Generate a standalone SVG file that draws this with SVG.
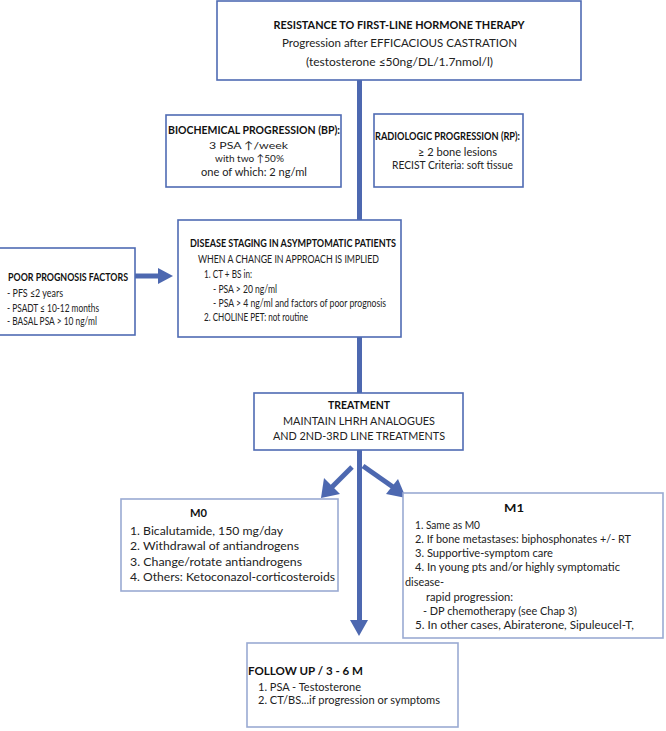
<svg xmlns="http://www.w3.org/2000/svg" width="666" height="731" viewBox="0 0 666 731">
<defs>
<style>
text{font-family:Lato,"Liberation Sans",sans-serif;font-size:11px;fill:#222}
.b{font-weight:bold;fill:#111}
.c{text-anchor:middle}
.box{fill:#fff;stroke:#4f6bb3;stroke-width:1.6}
.lbox{fill:#fff;stroke:#9aaad3;stroke-width:1.6}
.con{stroke:#4d68b0;stroke-width:5;fill:none}
.head{fill:#4d68b0}
</style>
</defs>
<rect width="666" height="731" fill="#fff"/>
<g id="connectors">
<line class="con" x1="359.5" y1="80" x2="359.5" y2="220"/>
<line class="con" x1="359.5" y1="337" x2="359.5" y2="393"/>
<line class="con" x1="359.5" y1="450" x2="359.5" y2="622"/>
<polygon class="head" points="350,620 368,620 359,636"/>
<line class="con" x1="135" y1="276" x2="160" y2="276"/>
<polygon class="head" points="158,268 173,276 158,284"/>
<line class="con" x1="352" y1="467" x2="332" y2="487"/>
<polygon class="head" points="324,478 340,494 321,498"/>
<line class="con" x1="363" y1="466" x2="393" y2="487"/>
<polygon class="head" points="386,494 398,479 406,498"/>
</g>
<g id="top">
<rect class="box" x="217" y="1" width="364" height="79"/>
<text class="b c" x="399" y="29" style="font-size:11px" textLength="251" lengthAdjust="spacingAndGlyphs">RESISTANCE TO FIRST-LINE HORMONE THERAPY</text>
<text class="c" x="399.5" y="47" style="font-size:11.5px" textLength="235" lengthAdjust="spacingAndGlyphs">Progression after EFFICACIOUS CASTRATION</text>
<text class="c" x="399.5" y="66" style="font-size:11.5px" textLength="187" lengthAdjust="spacingAndGlyphs">(testosterone ≤50ng/DL/1.7nmol/l)</text>
</g>
<g id="bp">
<rect class="box" x="166" y="115" width="175" height="72"/>
<text class="b c" x="254" y="134" style="font-size:10.5px" textLength="172" lengthAdjust="spacingAndGlyphs">BIOCHEMICAL PROGRESSION (BP):</text>
<text class="c" x="248.5" y="149" style="font-size:10.2px" textLength="79" lengthAdjust="spacingAndGlyphs">3 PSA ↑/week</text>
<text class="c" x="249.5" y="162" style="font-size:10.2px" textLength="69" lengthAdjust="spacingAndGlyphs">with two ↑50%</text>
<text class="c" x="254" y="176" style="font-size:10.5px" textLength="106" lengthAdjust="spacingAndGlyphs">one of which: 2 ng/ml</text>
</g>
<g id="rp">
<rect class="box" x="374" y="114" width="149" height="73"/>
<text class="b c" x="447.5" y="140" style="font-size:10.5px" textLength="145" lengthAdjust="spacingAndGlyphs">RADIOLOGIC PROGRESSION (RP):</text>
<text class="c" x="457.5" y="156" style="font-size:10.5px" textLength="79" lengthAdjust="spacingAndGlyphs">≥ 2 bone lesions</text>
<text class="c" x="452.5" y="169" style="font-size:10.5px" textLength="121" lengthAdjust="spacingAndGlyphs">RECIST Criteria: soft tissue</text>
</g>
<g id="poor">
<rect class="box" x="-1" y="248" width="136" height="87"/>
<text class="b" x="8" y="281" style="font-size:11.5px" textLength="120" lengthAdjust="spacingAndGlyphs">POOR PROGNOSIS FACTORS</text>
<text x="7" y="297" style="font-size:11px" textLength="56" lengthAdjust="spacingAndGlyphs">- PFS  ≤2 years</text>
<text x="7" y="312" style="font-size:11px" textLength="92" lengthAdjust="spacingAndGlyphs">- PSADT ≤ 10-12 months</text>
<text x="7" y="325" style="font-size:11px" textLength="90" lengthAdjust="spacingAndGlyphs">- BASAL PSA &gt; 10 ng/ml</text>
</g>
<g id="staging">
<rect class="box" x="178" y="220" width="223" height="117"/>
<text class="b" x="190" y="247" style="font-size:10.5px" textLength="206" lengthAdjust="spacingAndGlyphs">DISEASE STAGING IN ASYMPTOMATIC PATIENTS</text>
<text x="198" y="263" style="font-size:10.5px" textLength="181" lengthAdjust="spacingAndGlyphs">WHEN A CHANGE IN APPROACH IS IMPLIED</text>
<text x="204" y="278" style="font-size:10.5px" textLength="48" lengthAdjust="spacingAndGlyphs">1. CT + BS  in:</text>
<text x="213" y="293" style="font-size:10.5px" textLength="64" lengthAdjust="spacingAndGlyphs">- PSA &gt; 20 ng/ml</text>
<text x="213" y="307" style="font-size:10.5px" textLength="173" lengthAdjust="spacingAndGlyphs">- PSA &gt; 4 ng/ml and factors of poor prognosis</text>
<text x="204" y="321" style="font-size:10.5px" textLength="104" lengthAdjust="spacingAndGlyphs">2. CHOLINE PET: not routine</text>
</g>
<g id="treatment">
<rect class="box" x="254" y="393" width="209" height="57"/>
<text class="b c" x="359" y="409" textLength="62" lengthAdjust="spacingAndGlyphs">TREATMENT</text>
<text class="c" x="359" y="425" textLength="152" lengthAdjust="spacingAndGlyphs">MAINTAIN LHRH ANALOGUES</text>
<text class="c" x="359" y="440" textLength="172" lengthAdjust="spacingAndGlyphs">AND 2ND-3RD LINE TREATMENTS</text>
</g>
<g id="m0">
<rect class="lbox" x="121" y="499" width="217" height="92"/>
<text class="b c" x="198.5" y="517" style="font-size:12px" textLength="17" lengthAdjust="spacingAndGlyphs">M0</text>
<text x="130" y="535" style="font-size:11.5px" textLength="153" lengthAdjust="spacingAndGlyphs">1. Bicalutamide, 150 mg/day</text>
<text x="130" y="550" style="font-size:11.5px" textLength="169" lengthAdjust="spacingAndGlyphs">2. Withdrawal of antiandrogens</text>
<text x="130" y="566" style="font-size:11.5px" textLength="172" lengthAdjust="spacingAndGlyphs">3. Change/rotate antiandrogens</text>
<text x="130" y="581" style="font-size:11.5px" textLength="205" lengthAdjust="spacingAndGlyphs">4. Others: Ketoconazol-corticosteroids</text>
</g>
<g id="m1">
<rect class="lbox" x="403" y="493" width="260" height="145"/>
<text class="b c" x="514" y="512" style="font-size:12px" textLength="20" lengthAdjust="spacingAndGlyphs">M1</text>
<text x="415" y="529" style="font-size:10.5px" textLength="65" lengthAdjust="spacingAndGlyphs">1. Same as M0</text>
<text x="415" y="543" style="font-size:10.5px" textLength="216" lengthAdjust="spacingAndGlyphs">2. If bone metastases: biphosphonates +/- RT</text>
<text x="415" y="557" style="font-size:10.5px" textLength="138" lengthAdjust="spacingAndGlyphs">3. Supportive-symptom care</text>
<text x="415" y="571" style="font-size:10.5px" textLength="205" lengthAdjust="spacingAndGlyphs">4. In young pts and/or highly symptomatic</text>
<text x="405" y="586" style="font-size:10.5px" textLength="39" lengthAdjust="spacingAndGlyphs">disease-</text>
<text x="426" y="601" style="font-size:10.5px" textLength="87" lengthAdjust="spacingAndGlyphs">rapid progression:</text>
<text x="423" y="615" style="font-size:10.5px" textLength="154" lengthAdjust="spacingAndGlyphs">- DP chemotherapy (see Chap 3)</text>
<text x="415" y="629" style="font-size:10.5px" textLength="219" lengthAdjust="spacingAndGlyphs">5. In other cases, Abiraterone, Sipuleucel-T,</text>
</g>
<g id="followup">
<rect class="lbox" x="247" y="643" width="211" height="84"/>
<text class="b" x="248" y="675" style="font-size:12px" textLength="115" lengthAdjust="spacingAndGlyphs">FOLLOW UP / 3 - 6 M</text>
<text x="258" y="691" textLength="103" lengthAdjust="spacingAndGlyphs">1. PSA - Testosterone</text>
<text x="258" y="704" textLength="182" lengthAdjust="spacingAndGlyphs">2. CT/BS...if progression or symptoms</text>
</g>
</svg>
